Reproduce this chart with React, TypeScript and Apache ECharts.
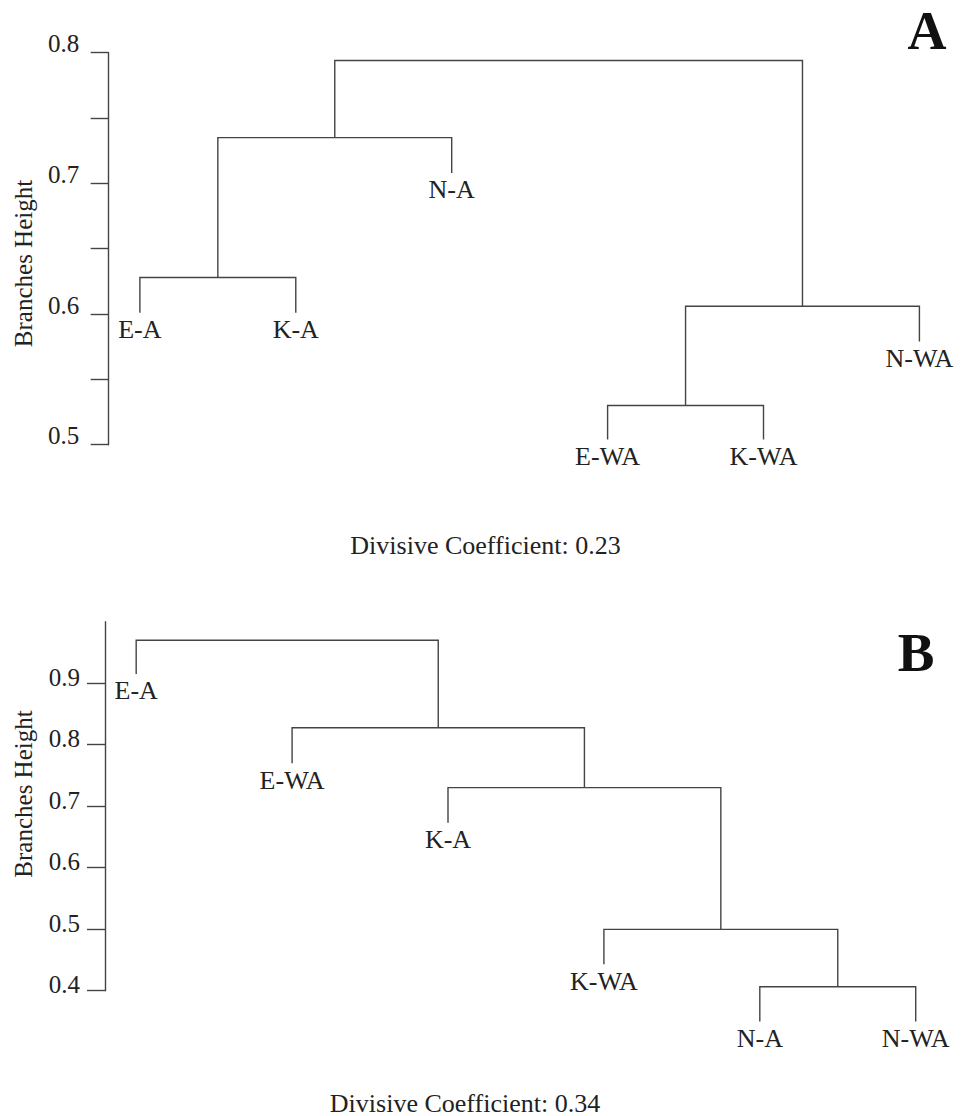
import React, { useEffect, useRef } from "react";
import * as echarts from "echarts";

// Panel A data (leaf order left to right)
const leavesA = ["E-A", "K-A", "N-A", "E-WA", "K-WA", "N-WA"];
const leafEndA = [0.601, 0.601, 0.708, 0.504, 0.504, 0.579];
// merges: negative = leaf number, positive = earlier merge number
const mergeA: [number, number][] = [[-1, -2], [-4, -5], [2, -6], [1, -3], [4, 3]];
const heightA = [0.628, 0.530, 0.606, 0.735, 0.794];
const ticksA = [0.5, 0.55, 0.6, 0.65, 0.7, 0.75, 0.8];
const labelsA = [0.5, 0.6, 0.7, 0.8];

// Panel B data
const leavesB = ["E-A", "E-WA", "K-A", "K-WA", "N-A", "N-WA"];
const leafEndB = [0.915, 0.770, 0.673, 0.443, 0.350, 0.350];
const mergeB: [number, number][] = [[-5, -6], [-4, 1], [-3, 2], [-2, 3], [-1, 4]];
const heightB = [0.4065, 0.4997, 0.7302, 0.8276, 0.9698];
const ticksB = [0.4, 0.5, 0.6, 0.7, 0.8, 0.9];
const labelsB = [0.4, 0.5, 0.6, 0.7, 0.8, 0.9];

const FONT = "'Liberation Serif', 'Times New Roman', serif";
const LINE = "#444";
const TEXT = "#222";

function buildSegments(merge: [number, number][], heights: number[], leafEnd: number[]) {
  const xs: number[] = [];
  const items: number[][] = [];
  merge.forEach(([a, b], k) => {
    const xa = a < 0 ? -a : xs[a - 1];
    const ha = a < 0 ? leafEnd[-a - 1] : heights[a - 1];
    const xb = b < 0 ? -b : xs[b - 1];
    const hb = b < 0 ? leafEnd[-b - 1] : heights[b - 1];
    xs[k] = (xa + xb) / 2;
    items.push([xa, ha, xb, hb, heights[k]]);
  });
  return items;
}

function dendroSeries(idx: number, merge: [number, number][], heights: number[], leafEnd: number[], names: string[]) {
  const segs = buildSegments(merge, heights, leafEnd);
  return [
    {
      type: "custom",
      xAxisIndex: idx,
      yAxisIndex: idx,
      clip: false,
      silent: true,
      data: segs,
      renderItem: (params: any, api: any) => {
        const xa = api.value(0), ha = api.value(1), xb = api.value(2), hb = api.value(3), h = api.value(4);
        const pts = [[xa, ha], [xa, h], [xb, h], [xb, hb]].map((p) => api.coord(p));
        return {
          type: "polyline",
          shape: { points: pts },
          style: { stroke: LINE, lineWidth: 1.4, fill: "none" },
        };
      },
    },
    {
      type: "custom",
      xAxisIndex: idx,
      yAxisIndex: idx,
      clip: false,
      silent: true,
      data: leafEnd.map((v, i) => [i + 1, v]),
      renderItem: (params: any, api: any) => {
        const p = api.coord([api.value(0), api.value(1)]);
        return {
          type: "text",
          x: p[0],
          y: p[1] + 17,
          style: {
            text: names[params.dataIndex],
            fontFamily: FONT,
            fontSize: 26,
            fill: TEXT,
            align: "center",
            verticalAlign: "middle",
          },
        };
      },
    },
  ];
}

function yAxisCfg(idx: number, min: number, max: number, ticks: number[], labels: number[], margin: number, shift: number) {
  return {
    type: "value",
    gridIndex: idx,
    min,
    max,
    position: "left",
    splitLine: { show: false },
    axisLine: { show: true, lineStyle: { color: LINE, width: 1.4 } },
    axisTick: { show: true, inside: false, length: 18, lineStyle: { color: LINE, width: 1.4 }, customValues: ticks },
    axisLabel: {
      show: true,
      customValues: labels,
      margin,
      fontFamily: FONT,
      fontSize: 25,
      color: TEXT,
      verticalAlign: "bottom",
      lineHeight: shift * 2,
      formatter: (v: number) => v.toFixed(1),
    },
  };
}

export default function App() {
  const ref = useRef<HTMLDivElement>(null);
  useEffect(() => {
    if (!ref.current) return;
    const chart = echarts.init(ref.current, undefined, { renderer: "svg" });
    const txt = (text: string, x: number, y: number, size: number, extra: any = {}) => ({
      type: "text",
      x,
      y,
      ...extra,
      style: {
        text,
        fontFamily: FONT,
        fontSize: size,
        fill: TEXT,
        align: "center",
        verticalAlign: "middle",
        ...(extra.style || {}),
      },
    });
    chart.setOption({
      animation: false,
      backgroundColor: "#fff",
      grid: [
        { left: 108.7, top: 52.7, width: 841.9, height: 392 },
        { left: 105, top: 621.7, width: 841.9, height: 369 },
      ],
      xAxis: [
        { type: "value", gridIndex: 0, min: 0.8, max: 6.2, show: false },
        { type: "value", gridIndex: 1, min: 0.8, max: 6.2, show: false },
      ],
      yAxis: [
        yAxisCfg(0, 0.5, 0.8, ticksA, labelsA, 29.5, 9),
        yAxisCfg(1, 0.4, 1.0, ticksB, labelsB, 25, 6),
      ],
      series: [
        ...dendroSeries(0, mergeA, heightA, leafEndA, leavesA),
        ...dendroSeries(1, mergeB, heightB, leafEndB, leavesB),
      ],
      graphic: [
        txt("A", 927, 31, 54, { style: { fontWeight: "bold", fill: "#111" } }),
        txt("B", 916, 652, 55, { style: { fontWeight: "bold", fill: "#111" } }),
        txt("Divisive Coefficient: 0.23", 485.5, 545, 26),
        txt("Divisive Coefficient: 0.34", 465, 1103, 26),
        txt("Branches Height", 23, 263.5, 25, { rotation: Math.PI / 2 }),
        txt("Branches Height", 23, 794, 25, { rotation: Math.PI / 2 }),
      ],
    });
    return () => chart.dispose();
  }, []);
  return (
    <div
      ref={ref}
      style={{ position: "absolute", left: 0, top: 0, width: 969, height: 1116, background: "#fff" }}
    />
  );
}
